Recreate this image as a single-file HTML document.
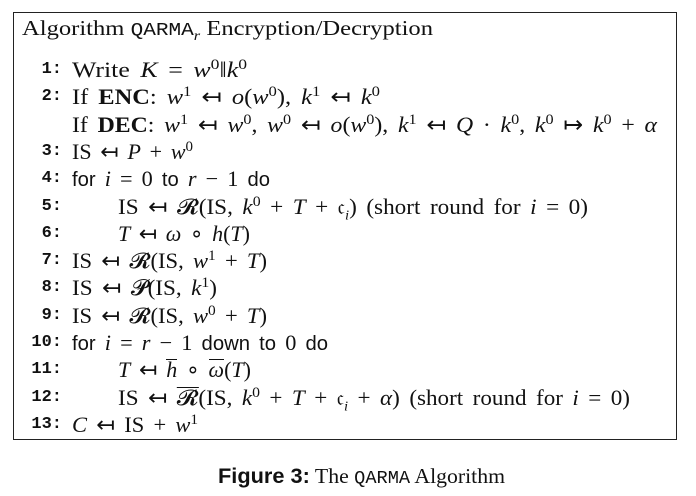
<!DOCTYPE html>
<html><head><meta charset="utf-8"><style>
body{margin:0;width:696px;height:496px;background:#fff;font-family:"Liberation Serif",serif;color:#111;position:relative;overflow:hidden}
#box{position:absolute;left:13px;top:12px;width:664px;height:428px;border:1.3px solid #222;box-sizing:border-box}
.t{position:absolute;left:22px;top:16px;font-size:21px;white-space:nowrap;transform-origin:0 0}
.ln{position:absolute;font-size:22px;white-space:nowrap;line-height:24px}
.n{position:absolute;width:62px;left:0;text-align:right;font-family:"Liberation Mono",monospace;font-weight:bold;font-size:17px}
.c{position:absolute;white-space:nowrap;transform-origin:0 50%}
i{font-style:italic}
.tt{font-family:"Liberation Mono",monospace;font-size:18px}
sup{font-size:15px;vertical-align:8px;line-height:0}
sub{font-size:14px;line-height:0}
.ov{display:inline-block;border-top:1.3px solid #111;line-height:17px;padding-top:1px}
.sf{font-family:"Liberation Sans",sans-serif;font-size:20px}
#cap{position:absolute;top:464px;left:218px;font-size:21px;white-space:nowrap;transform-origin:0 0}
#cap b{font-family:"Liberation Sans",sans-serif}
</style></head><body>
<div id="box"></div>
<div class="t" id="title">Algorithm <span class="tt">QARMA</span><sub><i>r</i></sub> Encryption/Decryption</div>
<div id="lines"></div>
<div id="cap"><b>Figure 3:</b> The <span class="tt">QARMA</span> Algorithm</div>
<script>
const rows=[
["1:",72,'Write <i>K</i> = <i>w</i><sup>0</sup>‖<i>k</i><sup>0</sup>',247],
["2:",72,'If <b>ENC</b>: <i>w</i><sup>1</sup> ↤ <i>o</i>(<i>w</i><sup>0</sup>), <i>k</i><sup>1</sup> ↤ <i>k</i><sup>0</sup>',380],
["",72,'If <b>DEC</b>: <i>w</i><sup>1</sup> ↤ <i>w</i><sup>0</sup>, <i>w</i><sup>0</sup> ↤ <i>o</i>(<i>w</i><sup>0</sup>), <i>k</i><sup>1</sup> ↤ <i>Q</i> · <i>k</i><sup>0</sup>, <i>k</i><sup>0</sup> ↦ <i>k</i><sup>0</sup> + <i>α</i>',657],
["3:",72,'IS ↤ <i>P</i> + <i>w</i><sup>0</sup>',193],
["4:",72,'<span class="sf">for</span> <i>i</i> = 0 <span class="sf">to</span> <i>r</i> − 1 <span class="sf">do</span>',270],
["5:",118,'IS ↤ 𝓡(IS, <i>k</i><sup>0</sup> + <i>T</i> + 𝔠<sub><i>i</i></sub>) (short round for <i>i</i> = 0)',588],
["6:",118,'<i>T</i> ↤ <i>ω</i> ∘ <i>h</i>(<i>T</i>)',250],
["7:",72,'IS ↤ 𝓡(IS, <i>w</i><sup>1</sup> + <i>T</i>)',267],
["8:",72,'IS ↤ 𝓟(IS, <i>k</i><sup>1</sup>)',217],
["9:",72,'IS ↤ 𝓡(IS, <i>w</i><sup>0</sup> + <i>T</i>)',267],
["10:",72,'<span class="sf">for</span> <i>i</i> = <i>r</i> − 1 <span class="sf">down to</span> 0 <span class="sf">do</span>',328],
["11:",118,'<i>T</i> ↤ <i class="ov">h</i> ∘ <i class="ov">ω</i>(<i>T</i>)',251],
["12:",118,'IS ↤ <span class="ov">𝓡</span>(IS, <i>k</i><sup>0</sup> + <i>T</i> + 𝔠<sub><i>i</i></sub> + <i>α</i>) (short round for <i>i</i> = 0)',630],
["13:",72,'<i>C</i> ↤ IS + <i>w</i><sup>1</sup>',198]
];
const host=document.getElementById('lines');
rows.forEach((r,k)=>{
const d=document.createElement('div');
d.className='ln';
d.style.top=(58+k*27.3)+'px';d.style.left='0';d.style.width='696px';


d.innerHTML='<span class="n">'+r[0]+'</span><span class="c" style="left:'+r[1]+'px">'+r[2]+'</span>';
host.appendChild(d);
const c=d.querySelector('.c');
const target=r[3]-r[1];
let w=c.getBoundingClientRect().width;
const spaces=(c.textContent.match(/ /g)||[]).length;
if(w<target&&spaces>0){c.style.wordSpacing=Math.min(3.5,(target-w)/spaces)+'px';w=c.getBoundingClientRect().width;}
c.style.transform='scaleX('+(target/w)+')';
});
function fit(id,target){const e=document.getElementById(id);const w=e.getBoundingClientRect().width;e.style.transform='scaleX('+(target/w)+')';}
fit('title',433-22);
fit('cap',505-218);
</script>
</body></html>
